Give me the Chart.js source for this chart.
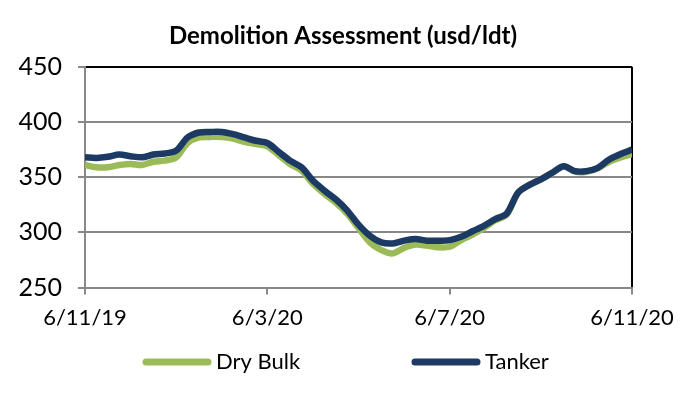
<!DOCTYPE html>
<html>
<head>
<meta charset="utf-8">
<script src="https://cdn.jsdelivr.net/npm/chart.js@4"></script>
<style>
  html, body { margin: 0; padding: 0; background: #fff; }
  #wrap { width: 694px; height: 394px; }
</style>
</head>
<body>
<div id="wrap"><canvas id="demoChart" width="694" height="394"></canvas></div>
<script>
// weekly index, 6/11/19 .. 6/11/20
const weeks = Array.from({ length: 49 }, (_, i) => i);
const tickLabels = ['6/11/19', '6/3/20', '6/7/20', '6/11/20'];

const dryBulk = [361, 359, 359, 361, 362, 361, 364, 365, 368, 381,
                 386, 386.5, 386.5, 385, 382, 380, 378, 370, 362, 356,
                 344, 335, 327, 317, 304, 291, 284, 281, 286, 289,
                 288, 286.5, 287, 293, 298, 304, 311, 316, 336, 343,
                 348, 354, 360, 355, 355, 358, 364, 368, 371];

const tanker = [368, 367.5, 368.5, 370.5, 369, 368, 370.5, 371.5, 374, 386,
                390.5, 391, 391, 389, 386, 383, 381, 373, 365, 359,
                347, 338, 330, 320, 307, 297, 291, 290, 292.5, 294,
                292.5, 292.5, 293, 296, 301, 306, 312, 317, 336, 343,
                348, 354, 360, 355.5, 355.5, 358.5, 366, 371, 375];

const FONT = 'Lato';

// legend drawn under the axis, two items spread apart like the original
const bottomLegend = {
    id: 'bottomLegend',
    afterDraw(chart) {
        const c = chart.ctx;
        const spots = [{ x: 146, ds: 0 }, { x: 415, ds: 1 }];
        const y = 362;
        c.save();
        c.font = '22px ' + FONT;
        c.textBaseline = 'middle';
        spots.forEach(s => {
            const ds = chart.data.datasets[s.ds];
            c.strokeStyle = ds.borderColor;
            c.lineWidth = 7;
            c.lineCap = 'round';
            c.beginPath();
            c.moveTo(s.x, y);
            c.lineTo(s.x + 62, y);
            c.stroke();
            c.fillStyle = '#000';
            c.fillText(ds.label, s.x + 70, y);
        });
        c.restore();
    }
};

const ctx = document.getElementById('demoChart').getContext('2d');
new Chart(ctx, {
    type: 'line',
    data: {
        datasets: [{
            label: 'Dry Bulk',
            data: weeks.map((w, i) => ({ x: w, y: dryBulk[i] })),
            borderColor: '#9bbb59',
            backgroundColor: '#9bbb59',
            borderWidth: 6.5,
            pointRadius: 0,
            tension: 0.3,
            order: 2
        }, {
            label: 'Tanker',
            data: weeks.map((w, i) => ({ x: w, y: tanker[i] })),
            borderColor: '#1c3a64',
            backgroundColor: '#1c3a64',
            borderWidth: 6.5,
            pointRadius: 0,
            tension: 0.3,
            order: 1
        }]
    },
    options: {
        responsive: false,
        animation: false,
        layout: { padding: { left: 0, right: 8, top: 0, bottom: 53 } },
        plugins: {
            title: {
                display: true,
                text: 'Demolition Assessment (usd/ldt)',
                color: '#000',
                font: { family: FONT, size: 24, weight: 'bold' },
                padding: { top: 22, bottom: 16 }
            },
            legend: { display: false },
            tooltip: { enabled: false }
        },
        scales: {
            x: {
                type: 'linear',
                min: 0,
                max: 48,
                ticks: {
                    stepSize: 16,
                    color: '#000',
                    font: { family: FONT, size: 22 },
                    padding: 10,
                    maxRotation: 0,
                    callback: v => tickLabels[v / 16]
                },
                grid: {
                    color: c => c.index === 3 ? '#000' : 'rgba(0,0,0,0)',
                    tickColor: '#888',
                    tickLength: 7,
                    lineWidth: 2
                },
                border: { color: '#888', width: 2 }
            },
            y: {
                min: 250,
                max: 450,
                afterFit: axis => { axis.width = 85; },
                ticks: {
                    stepSize: 50,
                    color: '#000',
                    font: { family: FONT, size: 25 },
                    padding: 16
                },
                grid: {
                    color: c => c.tick && c.tick.value === 450 ? '#000' : '#888',
                    tickColor: '#888',
                    tickLength: 7,
                    lineWidth: 2
                },
                border: { color: '#888', width: 2 }
            },
            // empty right-hand spacer so the plot ends where the original does
            spacer: {
                position: 'right',
                afterFit: axis => { axis.width = 54; },
                ticks: { display: false },
                grid: { display: false },
                border: { display: false }
            }
        }
    },
    plugins: [bottomLegend]
});
</script>
</body>
</html>
